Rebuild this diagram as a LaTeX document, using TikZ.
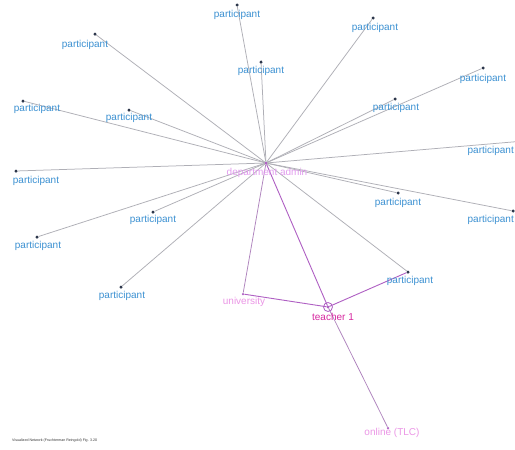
\documentclass[tikz,border=0pt]{standalone}
\usepackage{fontspec}
\setmainfont{Liberation Sans}
\definecolor{plblue}{RGB}{60,145,210}
\definecolor{pinklab}{RGB}{235,150,230}
\definecolor{teachlab}{RGB}{215,40,160}
\definecolor{hublab}{RGB}{225,155,238}
\definecolor{edgegray}{RGB}{175,175,182}
\definecolor{edgepurple}{RGB}{175,95,195}
\definecolor{dotcol}{RGB}{45,55,75}
\tikzset{
  pdot/.style={circle,fill=dotcol,inner sep=0pt,minimum size=3pt},
  kdot/.style={circle,fill=edgepurple,inner sep=0pt,minimum size=2.5pt},
  plab/.style={text=plblue,font=\fontsize{10}{11}\selectfont,inner sep=0pt},
  klab/.style={text=pinklab,font=\fontsize{10}{11}\selectfont,inner sep=0pt},
  gedge/.style={draw=edgegray,line width=0.75pt},
  uedge/.style={draw=edgepurple!55!edgegray,line width=0.75pt},
  kedge/.style={draw=edgepurple,line width=0.9pt},
}
\begin{document}
\begin{tikzpicture}[x=1pt,y=-1pt]
\clip (0,0) rectangle (515,450);
\fill[white] (0,0) rectangle (515,450);
% key nodes
\node[kdot] (hub) at (266,163) {};
\node[kdot] (teach) at (328,307) {};
\node[kdot] (uni) at (243,294) {};
\node[kdot] (onl) at (388,428) {};
% participants
\node[pdot] (p1) at (237,5) {};
\node[pdot] (p2) at (95,34) {};
\node[pdot] (p3) at (373,18) {};
\node[pdot] (p4) at (261,62) {};
\node[pdot] (p5) at (483,68) {};
\node[pdot] (p6) at (23,101) {};
\node[pdot] (p7) at (129,110) {};
\node[pdot] (p8) at (395,99) {};
\node[pdot] (p9) at (524,141) {};
\node[pdot] (p10) at (16,171) {};
\node[pdot] (p11) at (398,193) {};
\node[pdot] (p12) at (513,211) {};
\node[pdot] (p13) at (153,212) {};
\node[pdot] (p14) at (37,237) {};
\node[pdot] (p15) at (121,287) {};
\node[pdot] (p16) at (408,272) {};
% edges
\foreach \p in {p1,p2,p3,p4,p5,p6,p7,p8,p9,p10,p11,p12,p13,p14,p15,p16}
  \draw[gedge] (hub) -- (\p);
\draw[uedge] (hub) -- (uni);
\draw[kedge] (hub) -- (teach);
\draw[kedge] (uni) -- (teach);
\draw[kedge] (teach) -- (p16);
\draw[uedge] (teach) -- (onl);
% dots on top
\foreach \p in {p1,p2,p3,p4,p5,p6,p7,p8,p9,p10,p11,p12,p13,p14,p15,p16}
  \fill[dotcol] (\p) circle (1.5pt);
\fill[edgepurple] (hub) circle (1.4pt);
\draw[edgepurple,line width=0.8pt] (teach) circle (4.5pt);
\fill[edgepurple] (teach) circle (1.3pt);
% labels
\node[plab] (l1) at (237,15) {participant};
\node[plab] (l2) at (85,45) {participant};
\node[plab] (l3) at (375,28) {participant};
\node[plab] (l4) at (261,71) {participant};
\node[plab] (l5) at (483,79) {participant};
\node[plab] (l6) at (37,109) {participant};
\node[plab] (l7) at (129,118) {participant};
\node[plab] (l8) at (396,108) {participant};
\node[plab,anchor=east] (l9) at (514,151) {participant};
\node[plab] (l10) at (36,181) {participant};
\node[plab] (l11) at (398,203) {participant};
\node[plab,anchor=east] (l12) at (514,220) {participant};
\node[plab] (l13) at (153,220) {participant};
\node[plab] (l14) at (38,246) {participant};
\node[plab] (l15) at (122,296) {participant};
\node[plab] (l16) at (410,281) {participant};
\node[klab,text=hublab] (lhub) at (267,173) {department admin};
\node[klab] (luni) at (244,302) {university};
\node[klab,text=teachlab] (lteach) at (333,317) {teacher 1};
\node[klab] (lonl) at (392,433) {online (TLC)};
\node[anchor=west,inner sep=0pt,font=\fontsize{3.6}{4}\selectfont,text=black!80] (foot) at (12,441) {Visualized Network (Fruchterman Reingold) Fig. 3.20};
\end{tikzpicture}
\end{document}
